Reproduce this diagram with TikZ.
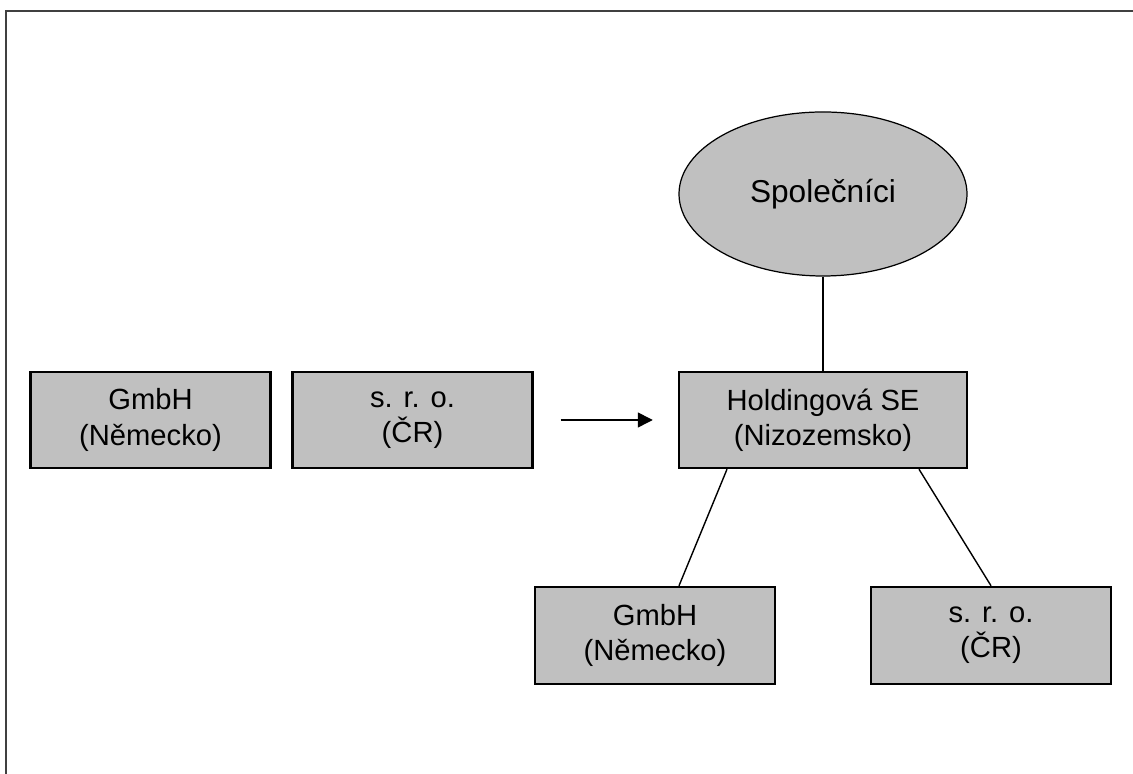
\documentclass[tikz,border=0pt]{standalone}
\usepackage{fontspec}
\setmainfont{Liberation Sans}
\usetikzlibrary{arrows.meta}
\usetikzlibrary{shapes.geometric}

\definecolor{boxgray}{HTML}{C0C0C0}
\definecolor{framegray}{HTML}{404040}

\tikzset{
  firm/.style={draw=black,line width=1.4pt,fill=boxgray,minimum width=4.8cm,minimum height=1.92cm,align=center,inner sep=0pt,font=\fontsize{16.6}{20}\selectfont},
  owners/.style={ellipse,draw=black,line width=0.7pt,fill=boxgray,minimum width=5.76cm,minimum height=3.28cm,inner sep=0pt,font=\fontsize{18}{21}\selectfont},
  link/.style={draw=black,line width=0.8pt}
}

\begin{document}
\begin{tikzpicture}
  \useasboundingbox (0,0) rectangle (22.66,15.48);
  %frame
  \draw[framegray,line width=1.1pt] (0.12,0) -- (0.12,15.26) -- (22.66,15.26);

  %before
  \node[firm] (gmbhA) at (3.01,7.08) {GmbH\\(Německo)};
  \node[firm] (sroA) at (8.25,7.08) {s. r. o.\\(ČR)};

  %after
  \node[owners] (spol) at (16.46,11.6) {Společníci};
  \node[firm,minimum width=5.76cm] (hold) at (16.46,7.08) {Holdingová SE\\(Nizozemsko)};
  \node[firm,minimum height=1.94cm] (gmbhB) at (13.1,2.77) {GmbH\\(Německo)};
  \node[firm,minimum height=1.94cm] (sroB) at (19.82,2.77) {s. r. o.\\(ČR)};

  \draw[link,-{Triangle[length=0.3cm,width=0.3cm]}] ([xshift=0.54cm]sroA.east) -- ([xshift=-0.5cm]hold.west);
  \draw[link] (spol.south) -- (hold.north);
  \draw[link] ([xshift=-1.92cm]hold.south) -- ([xshift=0.48cm]gmbhB.north);
  \draw[link] ([xshift=1.92cm]hold.south) -- (sroB.north);
\end{tikzpicture}
\end{document}
